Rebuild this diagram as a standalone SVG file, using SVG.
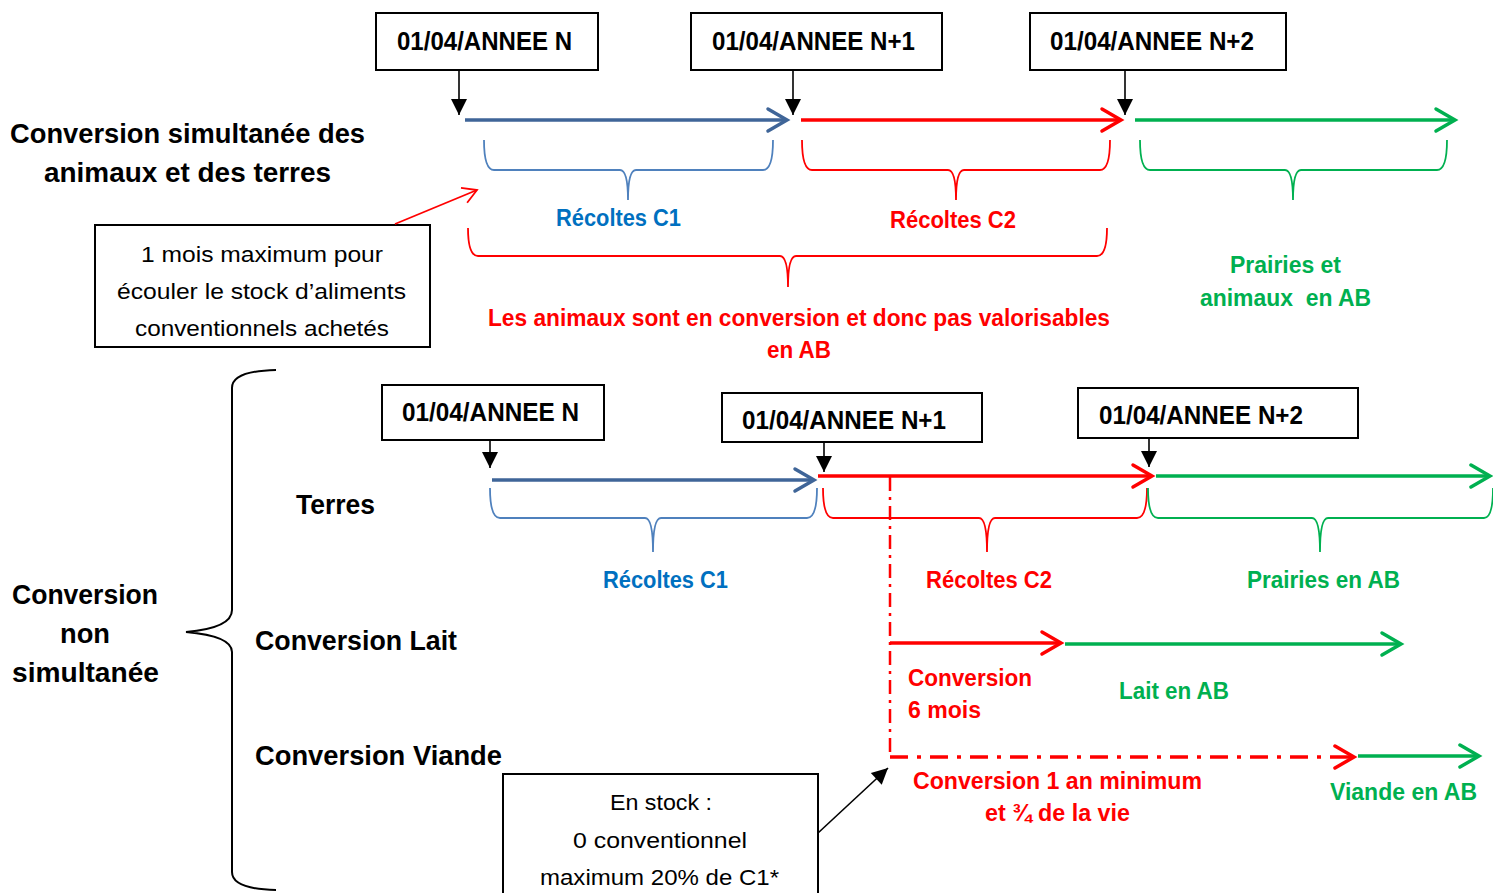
<svg xmlns="http://www.w3.org/2000/svg" width="1493" height="893" viewBox="0 0 1493 893">
<style>
text{font-family:"Liberation Sans",Arial,sans-serif;}
.b{font-weight:bold;}
.k{fill:#000;}
.bl{fill:#0070C0;}
.rd{fill:#FF0000;}
.gr{fill:#00B050;}
.box{fill:#fff;stroke:#000;stroke-width:2;}
.date{font-size:25px;font-weight:bold;fill:#000;}
.lab{font-size:23px;font-weight:bold;}
.big{font-size:27px;font-weight:bold;fill:#000;}
.note{font-size:22px;fill:#000;}
.brB{fill:none;stroke:#4F81BD;stroke-width:1.8;}
.brR{fill:none;stroke:#FF0000;stroke-width:1.8;}
.brG{fill:none;stroke:#00B050;stroke-width:1.8;}
.lnB{fill:none;stroke:#3F6598;stroke-width:3.5;marker-end:url(#chB);}
.lnR{fill:none;stroke:#FF0000;stroke-width:3.5;marker-end:url(#chR);}
.lnG{fill:none;stroke:#00B050;stroke-width:3.5;marker-end:url(#chG);}
.dn{fill:none;stroke:#000;stroke-width:1.6;marker-end:url(#tri);}
</style>
<defs>
<marker id="chB" markerUnits="userSpaceOnUse" markerWidth="26" markerHeight="26" refX="22" refY="12" orient="auto" overflow="visible"><path d="M3,1 L22,12 L3,23" fill="none" stroke="#3F6598" stroke-width="3.5" stroke-linecap="round" stroke-linejoin="miter"/></marker>
<marker id="chR" markerUnits="userSpaceOnUse" markerWidth="26" markerHeight="26" refX="22" refY="12" orient="auto" overflow="visible"><path d="M3,1 L22,12 L3,23" fill="none" stroke="#FF0000" stroke-width="3.5" stroke-linecap="round"/></marker>
<marker id="chG" markerUnits="userSpaceOnUse" markerWidth="26" markerHeight="26" refX="22" refY="12" orient="auto" overflow="visible"><path d="M3,1 L22,12 L3,23" fill="none" stroke="#00B050" stroke-width="3.5" stroke-linecap="round"/></marker>
<marker id="chRs" markerUnits="userSpaceOnUse" markerWidth="20" markerHeight="20" refX="16" refY="9" orient="auto" overflow="visible"><path d="M2,1 L16,9 L2,17" fill="none" stroke="#FF0000" stroke-width="1.8"/></marker>
<marker id="tri" markerUnits="userSpaceOnUse" markerWidth="18" markerHeight="18" refX="16" refY="8" orient="auto" overflow="visible"><path d="M0,0 L16,8 L0,16 Z" fill="#000"/></marker>
</defs>

<!-- Top section -->
<g id="title-top">
<text class="big" x="10" y="143" textLength="355" lengthAdjust="spacingAndGlyphs">Conversion simultanée des</text>
<text class="big" x="44" y="182" textLength="287" lengthAdjust="spacingAndGlyphs">animaux et des terres</text>
</g>
<g id="date-top-n"><rect class="box" x="376" y="13" width="222" height="57"/><text class="date" x="397" y="50" textLength="175" lengthAdjust="spacingAndGlyphs">01/04/ANNEE N</text></g>
<g id="date-top-n1"><rect class="box" x="691" y="13" width="251" height="57"/><text class="date" x="712" y="50" textLength="203" lengthAdjust="spacingAndGlyphs">01/04/ANNEE N+1</text></g>
<g id="date-top-n2"><rect class="box" x="1030" y="13" width="256" height="57"/><text class="date" x="1050" y="50" textLength="204" lengthAdjust="spacingAndGlyphs">01/04/ANNEE N+2</text></g>
<g id="note-top"><rect class="box" x="95" y="225" width="335" height="122"/>
<text class="note" x="141" y="262" textLength="242" lengthAdjust="spacingAndGlyphs">1 mois maximum pour</text>
<text class="note" x="117" y="299" textLength="289" lengthAdjust="spacingAndGlyphs">écouler le stock d’aliments</text>
<text class="note" x="135" y="336" textLength="254" lengthAdjust="spacingAndGlyphs">conventionnels achetés</text>
</g>
<g id="labels-top">
<text class="lab bl" x="556" y="226" textLength="125" lengthAdjust="spacingAndGlyphs">Récoltes C1</text>
<text class="lab rd" x="890" y="228" textLength="126" lengthAdjust="spacingAndGlyphs">Récoltes C2</text>
<text class="lab rd" x="488" y="326" textLength="622" lengthAdjust="spacingAndGlyphs">Les animaux sont en conversion et donc pas valorisables</text>
<text class="lab rd" x="767" y="358" textLength="64" lengthAdjust="spacingAndGlyphs">en AB</text>
<text class="lab gr" x="1230" y="273" textLength="111" lengthAdjust="spacingAndGlyphs">Prairies et</text>
<text class="lab gr" x="1200" y="306" textLength="171" lengthAdjust="spacingAndGlyphs" xml:space="preserve">animaux  en AB</text>
</g>

<!-- Bottom section -->
<g id="title-bottom">
<text class="big" x="12" y="604" textLength="146" lengthAdjust="spacingAndGlyphs">Conversion</text>
<text class="big" x="60" y="643" textLength="50" lengthAdjust="spacingAndGlyphs">non</text>
<text class="big" x="12" y="682" textLength="147" lengthAdjust="spacingAndGlyphs">simultanée</text>
<text class="big" x="296" y="514" textLength="79" lengthAdjust="spacingAndGlyphs">Terres</text>
<text class="big" x="255" y="650" textLength="202" lengthAdjust="spacingAndGlyphs">Conversion Lait</text>
<text class="big" x="255" y="765" textLength="247" lengthAdjust="spacingAndGlyphs">Conversion Viande</text>
</g>
<g id="date-bot-n"><rect class="box" x="382" y="385" width="222" height="55"/><text class="date" x="402" y="421" textLength="177" lengthAdjust="spacingAndGlyphs">01/04/ANNEE N</text></g>
<g id="date-bot-n1"><rect class="box" x="722" y="393" width="260" height="49"/><text class="date" x="742" y="429" textLength="204" lengthAdjust="spacingAndGlyphs">01/04/ANNEE N+1</text></g>
<g id="date-bot-n2"><rect class="box" x="1078" y="388" width="280" height="50"/><text class="date" x="1099" y="424" textLength="204" lengthAdjust="spacingAndGlyphs">01/04/ANNEE N+2</text></g>
<g id="note-bottom"><rect class="box" x="503" y="774" width="315" height="130"/>
<text class="note" x="610" y="810" textLength="102" lengthAdjust="spacingAndGlyphs">En stock :</text>
<text class="note" x="573" y="848" textLength="174" lengthAdjust="spacingAndGlyphs">0 conventionnel</text>
<text class="note" x="540" y="885" textLength="239" lengthAdjust="spacingAndGlyphs">maximum 20% de C1*</text>
</g>
<g id="labels-bottom">
<text class="lab bl" x="603" y="588" textLength="125" lengthAdjust="spacingAndGlyphs">Récoltes C1</text>
<text class="lab rd" x="926" y="588" textLength="126" lengthAdjust="spacingAndGlyphs">Récoltes C2</text>
<text class="lab gr" x="1247" y="588" textLength="153" lengthAdjust="spacingAndGlyphs">Prairies en AB</text>
<text class="lab rd" x="908" y="686" textLength="124" lengthAdjust="spacingAndGlyphs">Conversion</text>
<text class="lab rd" x="908" y="718" textLength="73" lengthAdjust="spacingAndGlyphs">6 mois</text>
<text class="lab gr" x="1119" y="699" textLength="110" lengthAdjust="spacingAndGlyphs">Lait en AB</text>
<text class="lab rd" x="913" y="789" textLength="289" lengthAdjust="spacingAndGlyphs">Conversion 1 an minimum</text>
<text class="lab rd" x="985" y="821" textLength="145" lengthAdjust="spacingAndGlyphs">et ¾ de la vie</text>
<text class="lab gr" x="1330" y="800" textLength="147" lengthAdjust="spacingAndGlyphs">Viande en AB</text>
</g>

<g id="connectors">
<!-- top timeline -->
<line class="dn" x1="459" y1="70" x2="459" y2="115"/>
<line class="dn" x1="793" y1="70" x2="793" y2="115"/>
<line class="dn" x1="1125" y1="70" x2="1125" y2="115"/>
<line class="lnB" x1="465" y1="120" x2="787" y2="120"/>
<line class="lnR" x1="801" y1="120" x2="1121" y2="120"/>
<line class="lnG" x1="1135" y1="120" x2="1455" y2="120"/>
<path class="brB" d="M484,140 Q484,170 494,170 L620,170 Q628,170 628,200 Q628,170 636,170 L763,170 Q773,170 773,140"/>
<path class="brR" d="M802,140 Q802,170 812,170 L948,170 Q956,170 956,200 Q956,170 964,170 L1100,170 Q1110,170 1110,140"/>
<path class="brG" d="M1140,140 Q1140,170 1150,170 L1285,170 Q1293,170 1293,200 Q1293,170 1301,170 L1437,170 Q1447,170 1447,140"/>
<path class="brR" d="M468,228 Q468,256 478,256 L780,256 Q788,256 788,287 Q788,256 796,256 L1097,256 Q1107,256 1107,228"/>
<line x1="395" y1="224" x2="477" y2="190" stroke="#FF0000" stroke-width="1.8" marker-end="url(#chRs)"/>
<!-- bottom brace -->
<path d="M276,370 Q232,371 232,388 L232,610 Q232,628 186,632 Q232,636 232,652 L232,872 Q232,889 276,890" fill="none" stroke="#000" stroke-width="2"/>
<!-- bottom timeline -->
<line class="dn" x1="490" y1="440" x2="490" y2="468"/>
<line class="dn" x1="824" y1="442" x2="824" y2="472"/>
<line class="dn" x1="1149" y1="438" x2="1149" y2="467"/>
<line class="lnB" x1="492" y1="480" x2="814" y2="480"/>
<line class="lnR" x1="818" y1="476" x2="1152" y2="476"/>
<line class="lnG" x1="1156" y1="476" x2="1490" y2="476"/>
<path class="brB" d="M490,488 Q490,518 500,518 L645,518 Q653,518 653,552 Q653,518 661,518 L807,518 Q817,518 817,488"/>
<path class="brR" d="M823,488 Q823,518 833,518 L979,518 Q987,518 987,552 Q987,518 995,518 L1137,518 Q1147,518 1147,488"/>
<path class="brG" d="M1148,488 Q1148,518 1158,518 L1312,518 Q1320,518 1320,552 Q1320,518 1328,518 L1484,518 Q1493,518 1493,488"/>
<line x1="890" y1="477" x2="890" y2="757" stroke="#FF0000" stroke-width="2.5" stroke-dasharray="14,6,3,6"/>
<line class="lnR" x1="890" y1="643" x2="1061" y2="643"/>
<line class="lnG" x1="1065" y1="644" x2="1401" y2="644"/>
<line x1="890" y1="757" x2="1340" y2="757" stroke="#FF0000" stroke-width="3.5" stroke-dasharray="18,9,4,9"/>
<line class="lnR" x1="1340" y1="757" x2="1354" y2="757"/>
<line class="lnG" x1="1358" y1="756" x2="1479" y2="756"/>
<line x1="818" y1="833" x2="888" y2="768" stroke="#000" stroke-width="1.6" marker-end="url(#tri)"/>
</g>
</svg>
